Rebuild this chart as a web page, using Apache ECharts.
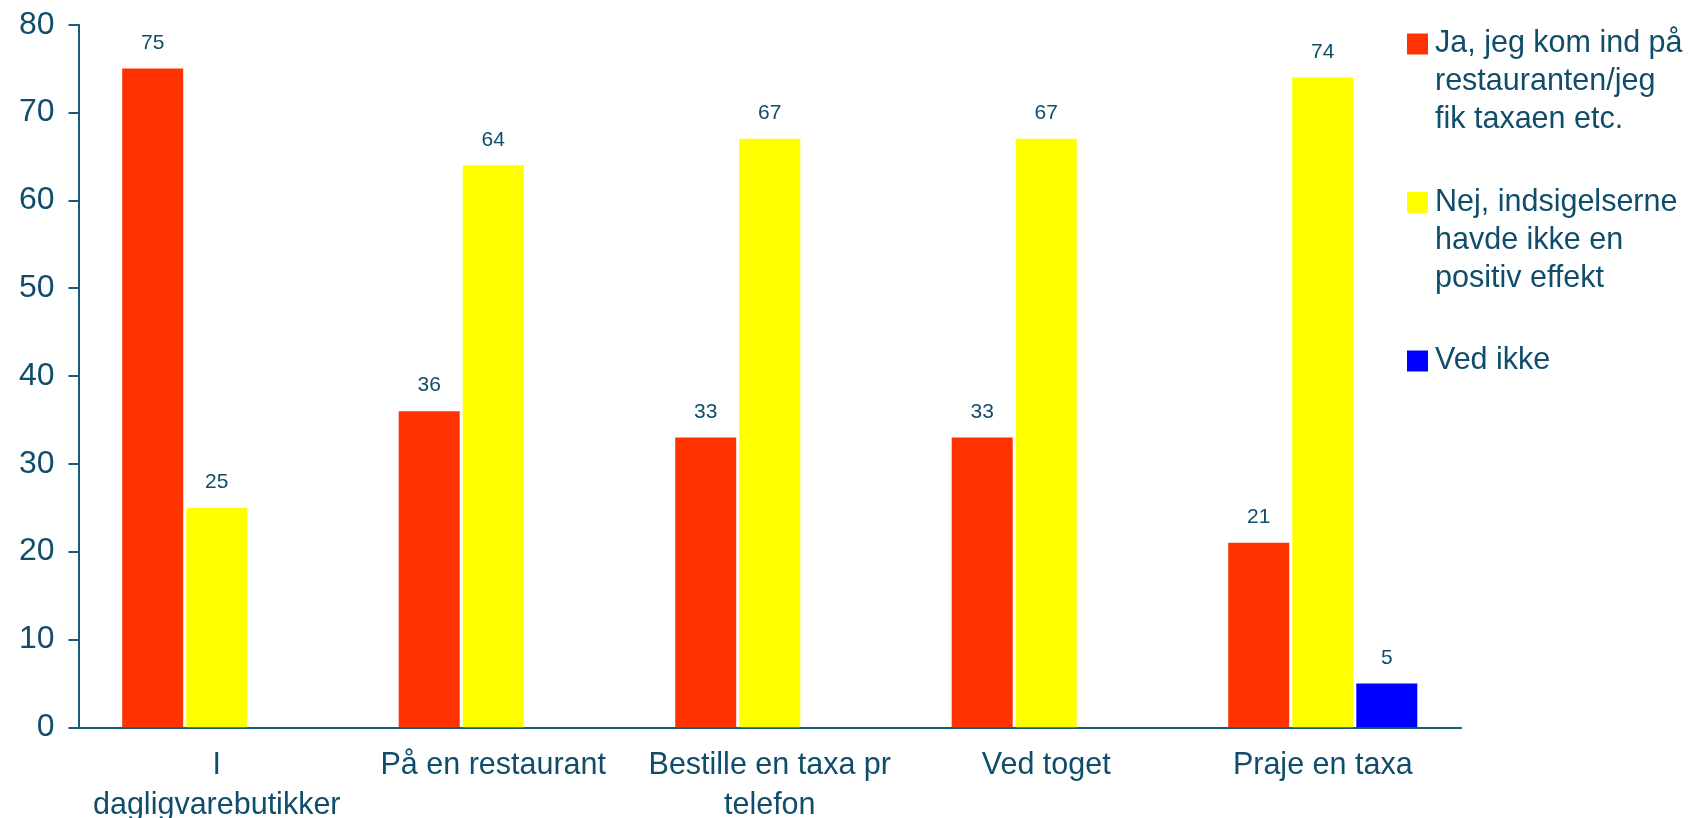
<!DOCTYPE html>
<html>
<head>
<meta charset="utf-8">
<script src="https://cdn.jsdelivr.net/npm/echarts@6/dist/echarts.min.js"></script>
<style>
html,body{margin:0;padding:0;background:#fff;}
#chart{width:1693px;height:818px;}
</style>
</head>
<body>
<div id="chart"></div>
<script>
const categories = ['I\ndagligvarebutikker', 'På en restaurant', 'Bestille en taxa pr\ntelefon', 'Ved toget', 'Praje en taxa'];
const seriesNames = ['Ja, jeg kom ind på\nrestauranten/jeg\nfik taxaen etc.', 'Nej, indsigelserne\nhavde ikke en\npositiv effekt', 'Ved ikke'];
const jaValues = [75, 36, 33, 33, 21];
const nejValues = [25, 64, 67, 67, 74];
const vedIkkeValues = [null, null, null, null, 5];
const yTicks = [0, 10, 20, 30, 40, 50, 60, 70, 80];

const TEXT = '#0f4d6b';
const FONT = '"Liberation Sans", Arial, sans-serif';

// Pad legend labels so the icon sits on the first line of text
function padLegend(name) {
  return '\n\n' + name + '\n'.repeat(Math.max(0, 2 - (name.split('\n').length - 1)));
}

const chart = echarts.init(document.getElementById('chart'), null, {renderer: 'canvas'});

function barSeries(name, data, color) {
  return {
    name: name,
    type: 'bar',
    data: data,
    barWidth: 61,
    barGap: '5%',
    itemStyle: {color: color},
    label: {
      show: true,
      position: 'top',
      distance: 15,
      color: TEXT,
      fontFamily: FONT,
      fontSize: 21
    }
  };
}

chart.setOption({
  animation: false,
  backgroundColor: '#ffffff',
  grid: {left: 78.5, right: 232, top: 24.7, bottom: 90.7, containLabel: false, outerBoundsMode: 'none'},
  legend: {
    orient: 'vertical',
    left: 1407,
    top: -51,
    padding: 0,
    itemWidth: 21,
    itemHeight: 21,
    itemGap: -31.5,
    icon: 'rect',
    selectedMode: false,
    formatter: function (name) { return padLegend(name); },
    textStyle: {
      color: TEXT,
      fontFamily: FONT,
      fontSize: 30.5,
      lineHeight: 38,
      padding: [0, 0, 0, 2]
    },
    data: seriesNames
  },
  xAxis: {
    type: 'category',
    data: categories,
    axisLine: {show: true, lineStyle: {color: '#1b5a78', width: 2}},
    axisTick: {show: false},
    axisLabel: {
      color: TEXT,
      fontFamily: FONT,
      fontSize: 30.5,
      lineHeight: 40,
      margin: 18,
      interval: 0
    }
  },
  yAxis: {
    type: 'value',
    min: yTicks[0],
    max: yTicks[yTicks.length - 1],
    interval: 10,
    splitLine: {show: false},
    axisLine: {show: true, lineStyle: {color: '#1b5a78', width: 2}},
    axisTick: {show: true, length: 10, lineStyle: {color: '#1b5a78', width: 2}},
    axisLabel: {
      color: TEXT,
      fontFamily: FONT,
      fontSize: 32,
      margin: 24
    }
  },
  series: [
    barSeries(seriesNames[0], jaValues, '#ff3300'),
    barSeries(seriesNames[1], nejValues, '#ffff00'),
    barSeries(seriesNames[2], vedIkkeValues, '#0000ff')
  ]
});
</script>
</body>
</html>
